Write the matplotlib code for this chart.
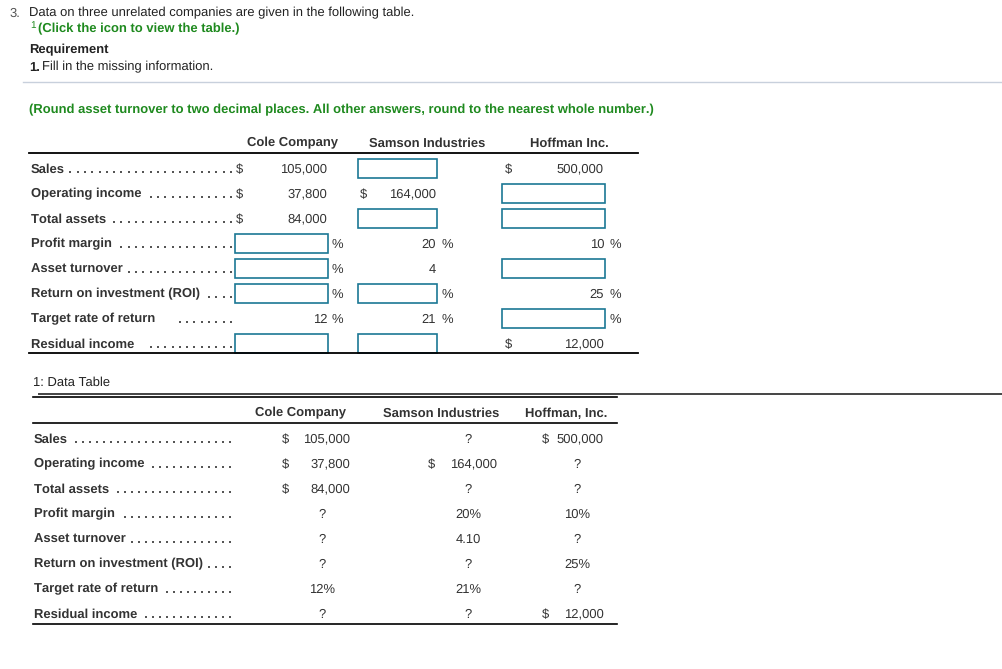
import matplotlib
matplotlib.use("Agg")
import matplotlib.pyplot as plt
from matplotlib.patches import Rectangle

plt.rcParams['font.family'] = ['Liberation Sans', 'DejaVu Sans']
plt.rcParams['text.hinting'] = 'no_hinting'
plt.rcParams['text.hinting_factor'] = 1

# data
row_labels = ['Sales', 'Operating income', 'Total assets', 'Profit margin',
              'Asset turnover', 'Return on investment (ROI)',
              'Target rate of return', 'Residual income']
row_kind = ['$', '$', '$', '%', 'x', '%', '%', '$']

top_companies = ['Cole Company', 'Samson Industries', 'Hoffman Inc.']
dt_companies = ['Cole Company', 'Samson Industries', 'Hoffman, Inc.']

# None = missing (input box / "?")
cole = [105000, 37800, 84000, None, None, None, 12, None]
samson = [None, 164000, None, 20, 4, None, 21, None]
hoffman = [500000, None, None, 10, None, 25, None, 12000]
top_values = [cole, samson, hoffman]

# which cells of the answer table carry a "%" sign
cole_pct = [False, False, False, True, True, True, True, False]
samson_pct = [False, False, False, True, False, True, True, False]
hoffman_pct = [False, False, False, True, False, True, True, False]
top_pct = [cole_pct, samson_pct, hoffman_pct]

dt_cole = [105000, 37800, 84000, None, None, None, 12, None]
dt_samson = [None, 164000, None, 20, 4.10, None, 21, None]
dt_hoffman = [500000, None, None, 10, None, 25, None, 12000]
dt_values = [dt_cole, dt_samson, dt_hoffman]

GREEN = '#1f8a1f'
TXT = '#333333'
BOX = '#1b7895'
FS = 9.2
FB = 9.4  # body text

fig = plt.figure(figsize=(10.03, 6.69), dpi=100)
ax = fig.add_axes([0, 0, 1, 1])
ax.set_xlim(0, 1003)
ax.set_ylim(669, 0)
ax.axis('off')

# header text
ax.text(10, 12, '3.', fontsize=FB, color='#555555', va='center_baseline')
ax.text(29, 12, 'Data on three unrelated companies are given in the following table.',
        fontsize=FB, color='#222222', va='center_baseline')
ax.text(30, 24, '1', fontsize=7, color=GREEN, va='center_baseline')
ax.text(38, 28, '(Click the icon to view the table.)', fontsize=FB, color=GREEN,
        fontweight='bold', va='center_baseline')
ax.text(29, 49, 'Requirement', fontsize=FB, color='#222222', fontweight='bold',
        va='center_baseline')
ax.text(29, 66, '1.', fontsize=FB, color='#222222', fontweight='bold', va='center_baseline')
ax.text(42, 66, 'Fill in the missing information.', fontsize=FB, color='#222222',
        va='center_baseline')
ax.plot([23, 1003], [82, 82], color='#c8d0dc', lw=1)
ax.text(29, 109, '(Round asset turnover to two decimal places. All other answers, round '
        'to the nearest whole number.)', fontsize=FB, color=GREEN, fontweight='bold',
        va='center_baseline')

fig.canvas.draw()
renderer = fig.canvas.get_renderer()


def leader(label_obj, end_x, y, gap, step):
    # dot leader from the end of the label to end_x
    bb = label_obj.get_window_extent(renderer)
    start = bb.x1 + gap
    xs = []
    x = end_x
    while x >= start:
        xs.append(x)
        x -= step
    ax.scatter(xs, [y + 3.5] * len(xs), marker='s', s=1.4, color='#555555', linewidths=0)


# ---- answer table ----
col_center = [293, 427, 569]
box_l = [235, 358, 502]
box_r = [328, 437, 605]
dollar_x = [236, 360, 505]
pct_x = [332, 442, 610]
top_y0 = 168
gaps = [4, 5, 3, 3, 4, 6, 19, 16]

for c, name in enumerate(top_companies):
    ax.text(col_center[c], 142, name, fontsize=FS, color=TXT, fontweight='bold',
            ha='center', va='center_baseline')
ax.plot([29, 638], [153, 153], color='black', lw=1.3)
ax.plot([29, 638], [353, 353], color='black', lw=1.3)

for i, lab in enumerate(row_labels):
    y = top_y0 + 25 * i
    t = ax.text(31, y, lab, fontsize=FS, color=TXT, fontweight='bold', va='center_baseline')
    leader(t, 231, y, gaps[i], 7.3)
    for c in range(3):
        v = top_values[c][i]
        if v is None:
            ax.add_patch(Rectangle((box_l[c], y - 9), box_r[c] - box_l[c], 19,
                                   fill=False, ec=BOX, lw=1.2))
        else:
            if row_kind[i] == '$':
                ax.text(dollar_x[c], y, '$', fontsize=FS, color=TXT, va='center_baseline')
                s = f'{v:,}'
            else:
                s = f'{v:g}'
            ax.text(box_r[c] - 1, y, s, fontsize=FS, color=TXT, ha='right',
                    va='center_baseline')
        if top_pct[c][i]:
            ax.text(pct_x[c], y, '%', fontsize=FS, color=TXT, va='center_baseline')

# ---- data table ----
ax.text(33, 381, '1: Data Table', fontsize=9.6, color='#222222', va='center_baseline')
ax.plot([39, 1003], [394, 394], color='#444444', lw=1.4)
ax.plot([33, 617], [397, 397], color='black', lw=1.2)

dt_center = [301, 441, 566]
dt_dollar = [282, 428, 542]
dt_right = [350, 497, 604]
dt_mid = [322, 468, 577]
dt_y0 = 438
dt_gaps = [2, 4, 4, 4, 2, 4, 4, 4]

for c, name in enumerate(dt_companies):
    ax.text(dt_center[c], 412, name, fontsize=FS, color=TXT, fontweight='bold',
            ha='center', va='center_baseline')
ax.plot([33, 617], [423, 423], color='black', lw=1.2)
ax.plot([33, 617], [624, 624], color='black', lw=1.2)

for i, lab in enumerate(row_labels):
    y = dt_y0 + 25 * i
    t = ax.text(34, y, lab, fontsize=FS, color=TXT, fontweight='bold', va='center_baseline')
    leader(t, 230.5, y, dt_gaps[i], 7.0)
    for c in range(3):
        v = dt_values[c][i]
        if v is None:
            ax.text(dt_mid[c], y, '?', fontsize=FS, color=TXT, ha='center',
                    va='center_baseline')
        elif row_kind[i] == '$':
            ax.text(dt_dollar[c], y, '$', fontsize=FS, color=TXT, va='center_baseline')
            ax.text(dt_right[c], y, f'{v:,}', fontsize=FS, color=TXT, ha='right',
                    va='center_baseline')
        elif row_kind[i] == '%':
            ax.text(dt_mid[c], y, f'{v:g}%', fontsize=FS, color=TXT, ha='center',
                    va='center_baseline')
        else:
            ax.text(dt_mid[c], y, f'{v:.2f}', fontsize=FS, color=TXT, ha='center',
                    va='center_baseline')

fig.savefig('out.png', dpi=100)
